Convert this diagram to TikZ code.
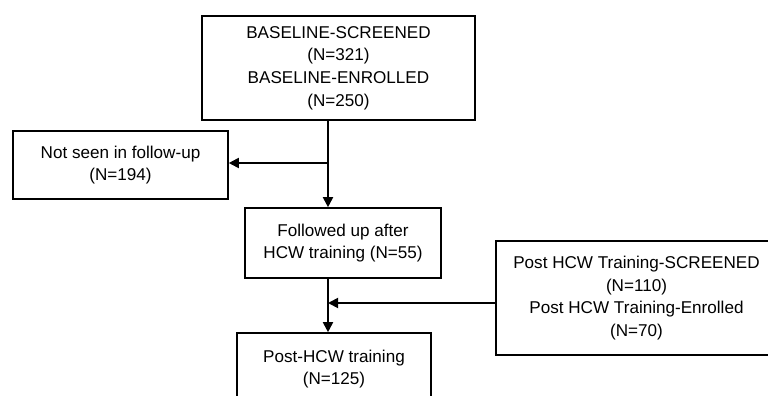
\documentclass[tikz,border=0pt]{standalone}
\usepackage{fontspec}
\setmainfont{Liberation Sans}
\usetikzlibrary{arrows.meta}
\tikzset{
  box/.style={draw, line width=1.6pt, inner sep=0pt, align=center,
    font=\fontsize{17.1}{22.8}\selectfont},
  arr/.style={line width=1.8pt, -{Triangle[length=10pt,width=10pt]}}
}
\begin{document}
\begin{tikzpicture}[x=1pt,y=-1pt]
\useasboundingbox (0,0) rectangle (768,396);
\clip (0,0) rectangle (768,396);
\node[box, minimum width=273pt, minimum height=104pt] (top) at (338.5,68)
  {BASELINE-SCREENED\\(N=321)\\BASELINE-ENROLLED\\(N=250)};
\node[box, minimum width=215pt, minimum height=68pt] (ns) at (120.5,165)
  {Not seen in follow-up\\(N=194)};
\node[box, minimum width=196pt, minimum height=70pt] (fol) at (343,243)
  {Followed up after\\HCW training (N=55)};
\node[box, minimum width=281pt, minimum height=114pt] (rb) at (636.5,298)
  {Post HCW Training-SCREENED\\(N=110)\\Post HCW Training-Enrolled\\(N=70)};
\node[box, minimum width=194pt, minimum height=72pt] (post) at (334,369)
  {Post-HCW training\\(N=125)};
\coordinate (j1) at (328,163);
\coordinate (j2) at (328,303);
\draw[arr] (top.south -| j1) -- (fol.north -| j1);
\draw[arr] (j1) -- (ns.east |- j1);
\draw[arr] (fol.south -| j2) -- (post.north -| j2);
\draw[arr] (rb.west |- j2) -- (j2);
\end{tikzpicture}
\end{document}
